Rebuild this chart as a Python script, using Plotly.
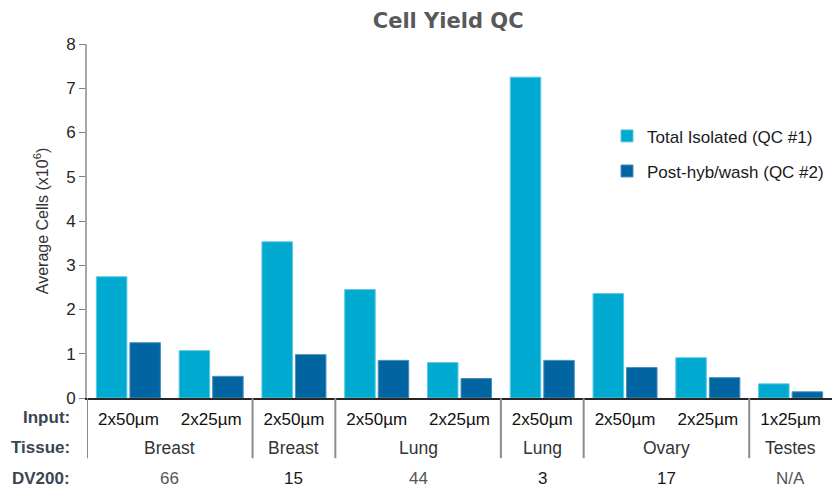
import plotly.graph_objects as go

# Sample groups along the x axis
inputs = ["2x50µm", "2x25µm", "2x50µm", "2x50µm", "2x25µm", "2x50µm", "2x50µm", "2x25µm", "1x25µm"]
tissues = ["Breast", "Breast", "Lung", "Lung", "Ovary", "Testes"]
tissue_spans = [(0, 1), (2, 2), (3, 4), (5, 5), (6, 7), (8, 8)]
dv200 = ["66", "15", "44", "3", "17", "N/A"]

# Average cell counts (x10^6)
total_isolated = [2.74, 1.07, 3.53, 2.45, 0.80, 7.25, 2.36, 0.91, 0.32]
post_hyb_wash = [1.25, 0.49, 0.98, 0.85, 0.44, 0.85, 0.69, 0.46, 0.14]

LIGHT = "#00A9CF"
DARK = "#0065A1"
FONT = "Arial, Liberation Sans, sans-serif"

x_idx = list(range(len(inputs)))

fig = go.Figure()
fig.add_trace(go.Bar(
    x=x_idx, y=total_isolated, name="Total Isolated (QC #1)",
    marker=dict(color=LIGHT, line=dict(color="#5CC8E3", width=1)),
    legendgroup="a",
))
fig.add_trace(go.Bar(
    x=x_idx, y=post_hyb_wash, name="Post-hyb/wash (QC #2)",
    marker=dict(color=DARK, line=dict(color="#4A8FC0", width=1)),
    legendgroup="b",
))

# Row headers for the table under the axis
row_y = {"Input:": -0.056, "Tissue:": -0.141, "DV200:": -0.226}
annotations = []
for label, yv in row_y.items():
    annotations.append(dict(
        text=f"<b>{label}</b>", x=-0.02, y=yv, xref="paper", yref="paper",
        xanchor="right", yanchor="middle", showarrow=False,
        font=dict(family=FONT, size=17, color="#3B4552"),
    ))

dv_colors = ["#555555", "#1a1a1a", "#555555", "#1a1a1a", "#1a1a1a", "#555555"]
for (a, b), t, d, c in zip(tissue_spans, tissues, dv200, dv_colors):
    cx = (a + b) / 2
    annotations.append(dict(
        text=t, x=cx, y=row_y["Tissue:"], xref="x", yref="paper",
        xanchor="center", yanchor="middle", showarrow=False,
        font=dict(family=FONT, size=17.5, color="#333333"),
    ))
    annotations.append(dict(
        text=d, x=cx, y=row_y["DV200:"], xref="x", yref="paper",
        xanchor="center", yanchor="middle", showarrow=False,
        font=dict(family=FONT, size=17, color=c),
    ))

# Vertical dividers between tissue groups
shapes = []
for a, b in tissue_spans:
    xs = a - 0.5
    shapes.append(dict(
        type="line", xref="x", yref="paper", x0=xs, x1=xs, y0=0, y1=-0.17,
        line=dict(color="#8C8C8C", width=2),
    ))

fig.update_layout(
    width=833, height=487,
    margin=dict(l=87, r=1, t=44, b=89),
    paper_bgcolor="white", plot_bgcolor="white",
    font=dict(family=FONT, color="#222222"),
    title=dict(
        text="<b>Cell Yield QC</b>", x=0.538, xanchor="center",
        y=0.958, yanchor="middle",
        font=dict(family="DejaVu Sans, sans-serif", size=21, color="#595959"),
    ),
    barmode="group", bargap=0.19, bargroupgap=0.09,
    showlegend=True,
    legend=dict(
        x=0.698, y=0.79, xanchor="left", yanchor="top",
        font=dict(family=FONT, size=17, color="#1a1a1a"),
        tracegroupgap=10, itemwidth=30, bgcolor="rgba(0,0,0,0)",
    ),
    annotations=annotations,
    shapes=shapes,
)

fig.update_xaxes(
    range=[-0.5, 8.5], tickmode="array", tickvals=x_idx, ticktext=inputs,
    showline=True, linecolor="#262626", linewidth=1.5,
    ticks="outside", ticklen=5, tickcolor="rgba(0,0,0,0)",
    showgrid=False, zeroline=False,
    tickfont=dict(family=FONT, size=17, color="#111111"),
)
fig.update_yaxes(
    range=[0, 8], dtick=1, showgrid=False, zeroline=False,
    showline=True, linecolor="#A6A6A6", linewidth=2,
    ticks="outside", ticklen=6, tickcolor="#7F7F7F", tickwidth=1,
    tickfont=dict(family=FONT, size=17, color="#262626"),
    title=dict(text="Average Cells (x10<sup>6</sup>)", standoff=14,
               font=dict(family=FONT, size=16, color="#333333")),
)

fig.write_html("out.html")
